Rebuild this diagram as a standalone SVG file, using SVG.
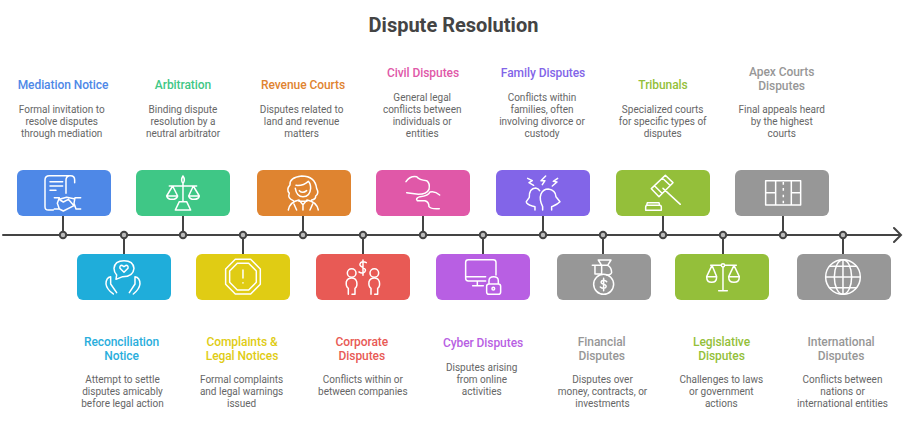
<svg xmlns="http://www.w3.org/2000/svg" width="918" height="427" viewBox="0 0 918 427">
<style>
text{font-family:Roboto,"Liberation Sans",sans-serif;text-anchor:middle}
.t{font-size:20px;font-weight:700;fill:#444}
.h{font-size:12px;font-weight:500;letter-spacing:-.07px}
.d{font-size:10px;fill:#666;transform:translateY(.4px)}
.i{fill:none;stroke:#fff;stroke-width:4.5;stroke-linecap:round;stroke-linejoin:round}
.c{stroke:#444;stroke-width:2;fill:none}
.p{fill:#bbb;stroke:#444;stroke-width:2}
</style>
<rect width="918" height="427" fill="#fff"/>
<text class="t" x="453.5" y="32">Dispute Resolution</text>
<g id="connectors">
<path class="c" d="M3 235H900M894 228l7 7l-7 7M63 216V235M183 216V235M303 216V235M423 216V235M543 216V235M663 216V235M783 216V235M124 235V254M243 235V254M363 235V254M483 235V254M603 235V254M723 235V254M843 235V254" stroke-linecap="round"/>
<g><circle class="p" cx="63" cy="235" r="3.2"/><circle class="p" cx="124" cy="235" r="3.2"/><circle class="p" cx="183" cy="235" r="3.2"/><circle class="p" cx="243" cy="235" r="3.2"/><circle class="p" cx="303" cy="235" r="3.2"/><circle class="p" cx="363" cy="235" r="3.2"/><circle class="p" cx="423" cy="235" r="3.2"/><circle class="p" cx="483" cy="235" r="3.2"/><circle class="p" cx="543" cy="235" r="3.2"/><circle class="p" cx="603" cy="235" r="3.2"/><circle class="p" cx="663" cy="235" r="3.2"/><circle class="p" cx="723" cy="235" r="3.2"/><circle class="p" cx="783" cy="235" r="3.2"/><circle class="p" cx="843" cy="235" r="3.2"/></g>
</g>
<g id="mediation">
<rect x="17" y="170" width="94" height="46" rx="6" fill="#4e88e7"/>
<g transform="translate(0,160) scale(.3333)" class="i"><path d="M160 150H145Q135 150 135 140V60Q135 47 148 47H212Q224 47 224 60V68M208 47Q198 50 198 60V100M150 65H188M150 78H188M150 91H168M163 113H178L172 130L178 147H163M242 113H225L222 130L228 147H242M178 118L200 112L222 116M178 147L190 153L222 137M180 120L190 126L205 118L222 137"/></g>
<text class="h" x="63" y="89" fill="#4e88e7">Mediation Notice</text>
<text class="d" x="61.7" y="113">Formal invitation to</text><text class="d" x="61.7" y="125">resolve disputes</text><text class="d" x="61.7" y="137">through mediation</text>
</g>
<g id="reconciliation">
<rect x="77" y="254" width="94" height="46" rx="6" fill="#1fadda"/>
<g transform="translate(0,160) scale(.3333)" class="i"><path d="M350 345L348 358L368 350Q400 350 402 325Q400 302 372 302Q344 302 342 325Q342 337 350 345ZM372 337L360 325Q358 316 366 316L372 320L378 316Q386 316 384 325ZM332 350Q318 352 318 372Q320 388 340 402M332 350V372L350 398M405 350Q420 352 420 372Q418 388 400 402M405 350V372L388 398"/></g>
<text class="h" x="121.6" y="346" fill="#2aaedc">Reconciliation</text><text class="h" x="121.6" y="360" fill="#2aaedc">Notice</text>
<text class="d" x="122.5" y="383">Attempt to settle</text><text class="d" x="122.5" y="395">disputes amicably</text><text class="d" x="122.5" y="407">before legal action</text>
</g>
<g id="arbitration">
<rect x="136" y="170" width="94" height="46" rx="6" fill="#3fc786"/>
<g transform="translate(0,160) scale(.3333)" class="i"><path d="M549 48Q541 60 549 70Q557 60 549 48ZM549 70V125M508 78H590M518 78L500 108M518 78L533 108M580 78L566 108M580 78L598 108M500 108H533Q530 118 516 118Q503 118 500 108ZM566 108H598Q596 118 582 118Q569 118 566 108ZM538 125H560L572 150H526Z"/></g>
<text class="h" x="183" y="89" fill="#3fc786">Arbitration</text>
<text class="d" x="183" y="113">Binding dispute</text><text class="d" x="183" y="125">resolution by a</text><text class="d" x="183" y="137">neutral arbitrator</text>
</g>
<g id="complaints">
<rect x="196" y="254" width="94" height="46" rx="6" fill="#e0cc14"/>
<g transform="translate(0,160) scale(.3333)" class="i"><path d="M706 298H752L781 327V373L752 402H706L677 373V327ZM712 310H746L769 333V367L746 390H712L689 367V333ZM729 330V354M729 368V369"/></g>
<text class="h" x="242" y="346" fill="#e0cc14">Complaints &amp;</text><text class="h" x="242" y="360" fill="#e0cc14">Legal Notices</text>
<text class="d" x="241.6" y="383">Formal complaints</text><text class="d" x="241.6" y="395">and legal warnings</text><text class="d" x="241.6" y="407">issued</text>
</g>
<g id="revenue">
<rect x="257" y="170" width="94" height="46" rx="6" fill="#df8430"/>
<g transform="translate(0,160) scale(.3333)" class="i"><path d="M886 85Q890 110 909 110Q930 110 932 85Q932 70 925 64Q910 78 888 76M898 92Q908 102 920 92M880 122Q862 115 868 100Q858 88 870 75Q868 52 905 48Q945 48 950 85Q958 100 947 108Q948 118 935 120M865 150Q870 125 897 120L909 134L921 120Q950 125 955 150M890 150L882 132M930 150L938 132M909 134V150M897 124H921"/></g>
<text class="h" x="303" y="89" fill="#df8430">Revenue Courts</text>
<text class="d" x="301.6" y="113">Disputes related to</text><text class="d" x="301.6" y="125">land and revenue</text><text class="d" x="301.6" y="137">matters</text>
</g>
<g id="corporate">
<rect x="316" y="254" width="94" height="46" rx="6" fill="#e85a55"/>
<g transform="translate(305,160) scale(.3333)" class="i"><circle cx="140" cy="339" r="13"/><circle cx="208" cy="339" r="13"/><path d="M130 403V385Q122 380 124 365Q128 354 140 354Q152 354 155 365Q158 380 150 385V403H141M198 403V385Q190 380 192 365Q196 354 208 354Q220 354 223 365Q226 380 218 385V403H209M184 308Q174 302 167 308Q160 316 173 322Q186 328 179 336Q172 342 162 336M174 300V346"/></g>
<text class="h" x="361.8" y="346" fill="#e85a55">Corporate</text><text class="h" x="361.8" y="360" fill="#e85a55">Disputes</text>
<text class="d" x="362.8" y="383">Conflicts within or</text><text class="d" x="362.8" y="395">between companies</text>
</g>
<g id="civil">
<rect x="376" y="170" width="94" height="46" rx="6" fill="#e058a8"/>
<g transform="translate(305,160) scale(.3333)" class="i"><path d="M303 65Q315 47 335 50Q342 60 365 62Q376 70 372 88Q365 103 340 103L305 98M404 105Q390 92 375 96Q370 108 345 110Q330 115 337 122H360Q372 125 372 140Q378 148 403 146"/></g>
<text class="h" x="423" y="77" fill="#e058a8">Civil Disputes</text>
<text class="d" x="422.2" y="101">General legal</text><text class="d" x="422.2" y="113">conflicts between</text><text class="d" x="422.2" y="125">individuals or</text><text class="d" x="422.2" y="137">entities</text>
</g>
<g id="cyber">
<rect x="436" y="254" width="94" height="46" rx="6" fill="#b85fe3"/>
<g transform="translate(305,160) scale(.3333)" class="i"><path d="M542 363H490Q482 363 482 355V307Q482 299 490 299H565Q573 299 573 307V345M482 350H542M517 363V375M503 377H535M552 372H580Q587 372 587 379V396Q587 403 580 403H552Q545 403 545 396V379Q545 372 552 372ZM552 372V362Q552 350 566 350Q580 350 580 362V372"/><circle cx="565" cy="386" r="4"/></g>
<text class="h" x="483" y="347" fill="#b85fe3">Cyber Disputes</text>
<text class="d" x="481.7" y="371">Disputes arising</text><text class="d" x="481.7" y="383">from online</text><text class="d" x="481.7" y="395">activities</text>
</g>
<g id="family">
<rect x="496" y="170" width="94" height="46" rx="6" fill="#8265e8"/>
<g transform="translate(305,160) scale(.3333)" class="i"><path d="M690 150V140L682 138Q664 132 664 125L673 112Q672 85 692 84Q700 85 704 92M713 150V140Q702 118 708 102Q715 87 730 87Q752 90 753 110L765 125Q758 132 745 138L740 140V150M668 55L682 62L672 68L686 76M722 48L708 62L720 62L712 74M758 55L745 64L756 66L742 78"/></g>
<text class="h" x="543" y="77" fill="#8265e8">Family Disputes</text>
<text class="d" x="542" y="101">Conflicts within</text><text class="d" x="542" y="113">families, often</text><text class="d" x="542" y="125">involving divorce or</text><text class="d" x="542" y="137">custody</text>
</g>
<g id="financial">
<rect x="557" y="254" width="94" height="46" rx="6" fill="#979797"/>
<g transform="translate(305,160) scale(.3333)" class="i"><path d="M880 300H918L908 316H890ZM890 316H862M870 316V342H890V316L908 316Q920 322 920 338Q918 345 905 345"/><circle cx="896" cy="373" r="30"/><path d="M905 365Q898 358 890 363Q885 370 896 373Q907 376 902 383Q894 388 886 381M896 355V392"/></g>
<text class="h" x="601.7" y="346" fill="#979797">Financial</text><text class="h" x="601.7" y="360" fill="#979797">Disputes</text>
<text class="d" x="602.5" y="383">Disputes over</text><text class="d" x="602.5" y="395">money, contracts, or</text><text class="d" x="602.5" y="407">investments</text>
</g>
<g id="tribunals">
<rect x="616" y="170" width="94" height="46" rx="6" fill="#94bf3a"/>
<g transform="translate(608,160) scale(.3333)" class="i"><path d="M130 86L172 46L195 68L153 110ZM140 78L162 100M163 54L186 76M165 85L217 133M115 136H155Q160 136 160 142V151H113V142Q113 136 118 136M118 128H153L155 136H116Z"/></g>
<text class="h" x="663" y="89" fill="#94bf3a">Tribunals</text>
<text class="d" x="662.7" y="113">Specialized courts</text><text class="d" x="662.7" y="125">for specific types of</text><text class="d" x="662.7" y="137">disputes</text>
</g>
<g id="legislative">
<rect x="675" y="254" width="94" height="46" rx="6" fill="#94bf3a"/>
<g transform="translate(608,160) scale(.3333)" class="i"><circle cx="345" cy="316" r="5"/><path d="M345 321V392M332 392H358M308 316H340M350 316H385M312 316L296 350M312 316L326 350M378 316L362 350M378 316L394 350M296 350H326Q326 367 311 367Q296 367 296 350ZM362 350H394Q394 367 378 367Q362 367 362 350Z"/></g>
<text class="h" x="721.5" y="346" fill="#94bf3a">Legislative</text><text class="h" x="721.5" y="360" fill="#94bf3a">Disputes</text>
<text class="d" x="721.3" y="383">Challenges to laws</text><text class="d" x="721.3" y="395">or government</text><text class="d" x="721.3" y="407">actions</text>
</g>
<g id="apex">
<rect x="735" y="170" width="94" height="46" rx="6" fill="#979797"/>
<g transform="translate(608,160) scale(.3333)" class="i"><path d="M473 62H578V135H473ZM473 98H503M550 98H578M503 62V135M550 62V135M526 66V74M526 84V92M526 104V112M526 122V130" stroke-linecap="butt"/></g>
<text class="h" x="781.6" y="76" fill="#979797">Apex Courts</text><text class="h" x="781.6" y="90" fill="#979797">Disputes</text>
<text class="d" x="781.7" y="113">Final appeals heard</text><text class="d" x="781.7" y="125">by the highest</text><text class="d" x="781.7" y="137">courts</text>
</g>
<g id="international">
<rect x="797" y="254" width="94" height="46" rx="6" fill="#979797"/>
<g transform="translate(608,160) scale(.3333)" class="i"><circle cx="705" cy="351" r="52"/><ellipse cx="705" cy="351" rx="26" ry="52"/><path d="M705 299V403M653 351H757M664 319H746M664 383H746"/></g>
<text class="h" x="841" y="346" fill="#979797">International</text><text class="h" x="841" y="360" fill="#979797">Disputes</text>
<text class="d" x="842.5" y="383">Conflicts between</text><text class="d" x="842.5" y="395">nations or</text><text class="d" x="842.5" y="407">international entities</text>
</g>
</svg>
